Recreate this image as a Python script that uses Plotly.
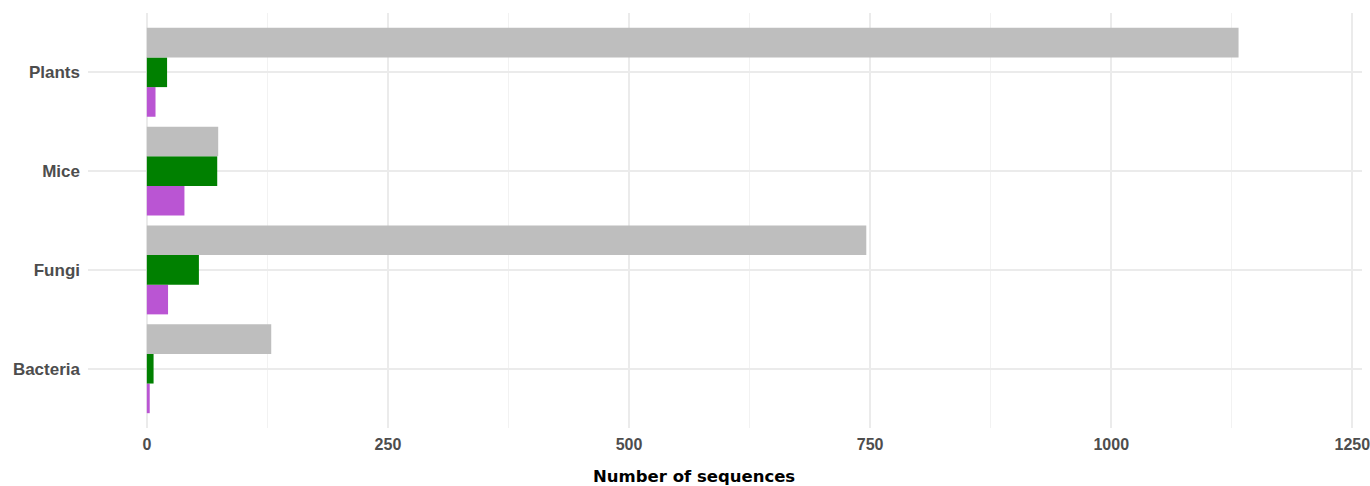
import plotly.graph_objects as go

categories = ["Bacteria", "Fungi", "Mice", "Plants"]
gray_vals = [129, 746, 74, 1132]
green_vals = [7, 54, 73, 21]
purple_vals = [3, 22, 39, 9]

series = [
    ("purple", purple_vals, "#BA55D3"),
    ("green", green_vals, "#008000"),
    ("gray", gray_vals, "#BEBEBE"),
]

fig = go.Figure()
for name, vals, color in series:
    fig.add_trace(go.Bar(
        y=categories, x=vals, orientation="h", name=name,
        marker=dict(color=color, line=dict(width=0)),
        showlegend=False,
    ))

fig.update_layout(
    width=1370, height=486,
    margin=dict(l=88, r=8, t=13, b=58, autoexpand=False),
    paper_bgcolor="white", plot_bgcolor="white",
    barmode="group", bargap=0.1, bargroupgap=0,
    font=dict(family="Liberation Sans, Arial, sans-serif", color="#4D4D4D"),
    xaxis=dict(
        range=[-61, 1260],
        tickvals=[0, 250, 500, 750, 1000, 1250],
        ticktext=["0", "250", "500", "750", "1000", "1250"],
        tickfont=dict(size=16, family="Liberation Sans, Arial, sans-serif", color="#4D4D4D", weight="bold"),
        showgrid=True, gridcolor="#EBEBEB", gridwidth=1.5,
        minor=dict(tickvals=[125, 375, 625, 875, 1125], showgrid=True, gridcolor="#F2F2F2", gridwidth=1),
        zeroline=False, showline=False, ticks="",
        ticklabelstandoff=5,
        ticklabeloverflow="allow",
        automargin=False,
    ),
    yaxis=dict(
        categoryorder="array", categoryarray=categories,
        range=[-0.6, 3.6],
        tickfont=dict(size=17, family="Liberation Sans, Arial, sans-serif", color="#4D4D4D", weight="bold"),
        showgrid=True, gridcolor="#EBEBEB", gridwidth=1.5,
        zeroline=False, showline=False, ticks="",
        ticklabelstandoff=7,
        automargin=False,
    ),
    annotations=[dict(
        text="<b>Number of sequences</b>", xref="paper", yref="paper",
        x=(694 - 88) / 1274, y=(428 - 476) / 415, xanchor="center", yanchor="middle",
        showarrow=False, font=dict(size=16.5, family="DejaVu Sans, Verdana, sans-serif", color="black"),
    )],
)

fig.write_html(
    "out.html",
    config={"displayModeBar": False},
    post_script="document.body.style.margin='0';document.body.style.overflow='hidden';",
)
